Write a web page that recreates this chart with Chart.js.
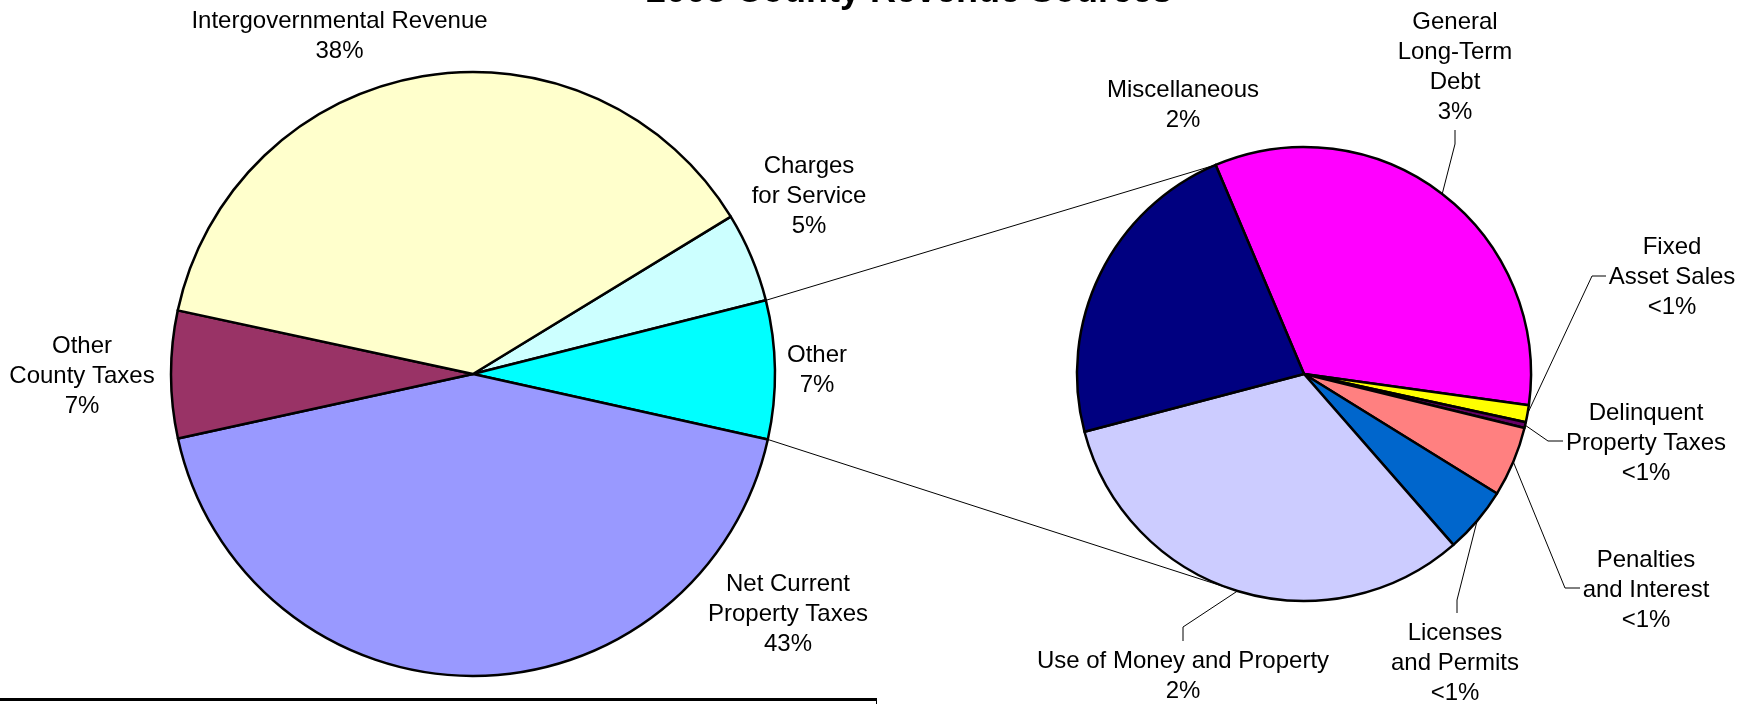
<!DOCTYPE html>
<html>
<head>
<meta charset="utf-8">
<script src="https://cdn.jsdelivr.net/npm/chart.js@4.4.1/dist/chart.umd.min.js"></script>
<style>
  html, body { margin: 0; padding: 0; background: #fff; overflow: hidden; }
  #wrap { position: relative; width: 1751px; height: 704px; }
  #wrap canvas { position: absolute; left: 0; top: 0; }
  #note-box { position: absolute; left: 0; top: 698px; width: 876px; height: 20px;
    border-top: 3px solid #000; border-right: 1px solid #000; }
</style>
</head>
<body>
<div id="wrap">
  <canvas id="main-pie" width="1751" height="704"></canvas>
  <canvas id="other-pie" width="1751" height="704"></canvas>
  <div id="note-box"></div>
</div>
<script>
const titleText = "2008 County Revenue Sources";

// main pie (percent of total revenue)
const mainLabels = [["Charges", "for Service"], ["Other"], ["Net Current", "Property Taxes"], ["Other", "County Taxes"], ["Intergovernmental Revenue"]];
const mainValues = [4.8, 7.4, 43.1, 6.8, 37.9];
const mainPct = ["5%", "7%", "43%", "7%", "38%"];
const mainColors = ["#CCFFFF", "#00FFFF", "#9999FF", "#993366", "#FFFFCC"];

// breakdown of "Other"
const otherLabels = [["General", "Long-Term", "Debt"], ["Fixed", "Asset Sales"], ["Delinquent", "Property Taxes"], ["Penalties", "and Interest"], ["Licenses", "and Permits"], ["Use of Money and Property"], ["Miscellaneous"]];
const otherValues = [2.48, 0.09, 0.03, 0.37, 0.35, 2.39, 1.68];
const otherPct = ["3%", "<1%", "<1%", "<1%", "<1%", "2%", "2%"];
const otherColors = ["#FF00FF", "#FFFF00", "#660066", "#FF8080", "#0066CC", "#CCCCFF", "#000080"];

// label placement (text centre of first line) and leader elbows
const mainLabelPos = [[809, 166], [817, 355], [788, 584], [82, 346], [339.5, 21]];
const otherLabelPos = [[1455, 22], [1672, 247], [1646, 413], [1646, 560], [1455, 633], [1183, 661], [1183, 90]];
const otherLeaders = [
  [[1455, 144], [1455, 130]],
  [[1592, 276], [1606, 276]],
  [[1548, 441], [1563, 441]],
  [[1565, 588], [1580, 588]],
  [[1457, 600], [1457, 613]],
  [[1183, 627], [1183, 641]],
  null,
];

const FONT = "'Liberation Sans', Arial, sans-serif";
const LINE_H = 30;
let mainChart, otherChart;

function drawLabels(ctx, labels, pct, pos) {
  ctx.save();
  ctx.fillStyle = "#000";
  ctx.font = "24px " + FONT;
  ctx.textAlign = "center";
  ctx.textBaseline = "middle";
  for (let i = 0; i < labels.length; i++) {
    const lines = labels[i].concat([pct[i]]);
    lines.forEach((t, k) => ctx.fillText(t, pos[i][0], pos[i][1] + k * LINE_H));
  }
  ctx.restore();
}

function edgePoint(arc, angle) {
  return [arc.x + arc.outerRadius * Math.cos(angle), arc.y + arc.outerRadius * Math.sin(angle)];
}

const mainLabelPlugin = {
  id: "mainLabels",
  afterDraw(chart) {
    const ctx = chart.ctx;
    drawLabels(ctx, mainLabels, mainPct, mainLabelPos);
    ctx.save();
    ctx.fillStyle = "#000";
    ctx.font = "bold 36px " + FONT;
    ctx.textAlign = "center";
    ctx.textBaseline = "alphabetic";
    ctx.fillText(titleText, 909, 2);
    ctx.restore();
  },
};

const otherLabelPlugin = {
  id: "otherLabels",
  afterDraw(chart) {
    const ctx = chart.ctx;
    const arcs = chart.getDatasetMeta(0).data;
    ctx.save();
    ctx.strokeStyle = "#000";
    ctx.lineWidth = 1;
    // leader lines
    for (let i = 0; i < arcs.length; i++) {
      if (!otherLeaders[i]) continue;
      const a = arcs[i];
      const p = edgePoint(a, (a.startAngle + a.endAngle) / 2);
      ctx.beginPath();
      ctx.moveTo(p[0], p[1]);
      otherLeaders[i].forEach((q) => ctx.lineTo(q[0], q[1]));
      ctx.stroke();
    }
    // connectors from the "Other" slice
    const src = mainChart.getDatasetMeta(0).data[1];
    const s1 = edgePoint(src, src.startAngle);
    const s2 = edgePoint(src, src.endAngle);
    const t1 = edgePoint(arcs[0], arcs[0].startAngle);
    const t2 = edgePoint(arcs[5], (arcs[5].startAngle + arcs[5].endAngle) / 2);
    ctx.beginPath();
    ctx.moveTo(s1[0], s1[1]);
    ctx.lineTo(t1[0], t1[1]);
    ctx.moveTo(s2[0], s2[1]);
    ctx.lineTo(t2[0], t2[1]);
    ctx.stroke();
    ctx.restore();
    drawLabels(ctx, otherLabels, otherPct, otherLabelPos);
  },
};

function pieOptions(rotation, padding) {
  return {
    responsive: false,
    animation: false,
    rotation: rotation,
    layout: { padding: padding },
    events: [],
    plugins: {
      legend: { display: false },
      tooltip: { enabled: false },
      title: { display: false },
    },
  };
}

mainChart = new Chart(document.getElementById("main-pie").getContext("2d"), {
  type: "pie",
  plugins: [mainLabelPlugin],
  data: {
    labels: mainLabels,
    datasets: [{
      data: mainValues,
      backgroundColor: mainColors,
      borderColor: "#000",
      borderWidth: 2.5,
      borderJoinStyle: "round",
      radius: 302,
    }],
  },
  options: pieOptions(58.6, { left: 0, right: 805, top: 44, bottom: 0 }),
});

otherChart = new Chart(document.getElementById("other-pie").getContext("2d"), {
  type: "pie",
  plugins: [otherLabelPlugin],
  data: {
    labels: otherLabels,
    datasets: [{
      data: otherValues,
      backgroundColor: otherColors,
      borderColor: "#000",
      borderWidth: 2.5,
      borderJoinStyle: "round",
      radius: 227,
    }],
  },
  options: pieOptions(337.1, { left: 857, right: 0, top: 44, bottom: 0 }),
});
</script>
</body>
</html>
